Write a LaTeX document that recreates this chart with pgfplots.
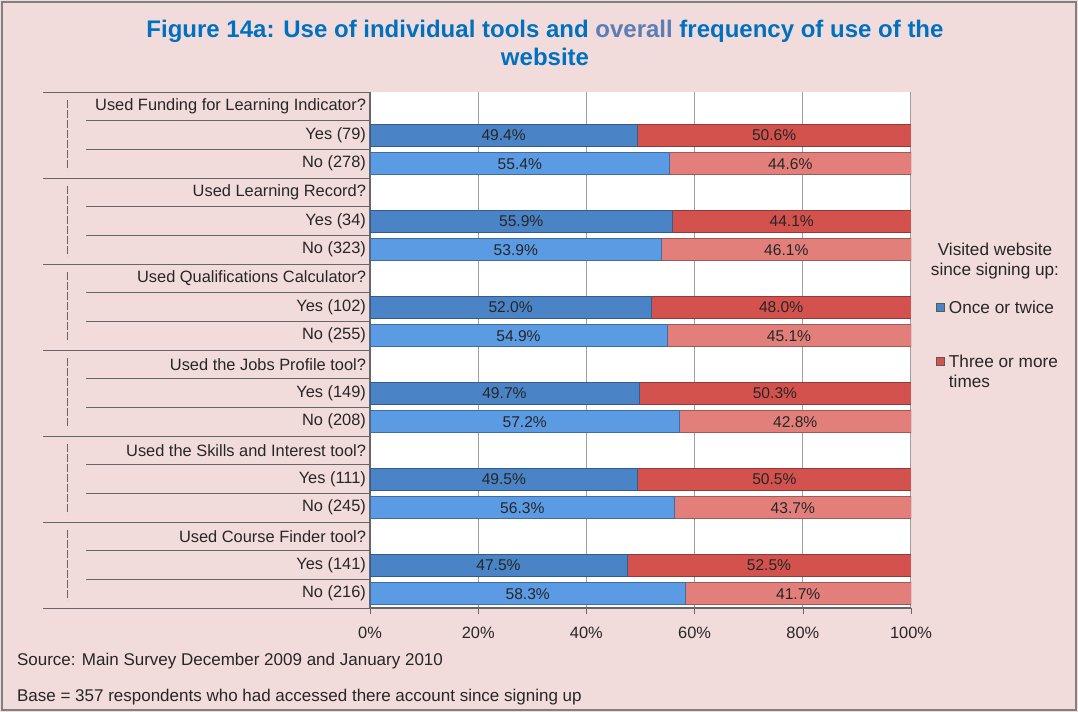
\documentclass[border=0pt]{standalone}
\usepackage{pgfplots}
\pgfplotsset{compat=1.18}
\usepackage{pgfplotstable}
\usepackage{fontspec}
\setmainfont{Liberation Sans}
\setsansfont{Liberation Sans}

\definecolor{bgpink}{HTML}{F2DCDB}
\definecolor{titleblue}{HTML}{0070C0}
\definecolor{overallblue}{HTML}{5A7DB8}
\definecolor{yesblue}{HTML}{4A84C6}
\definecolor{noblue}{HTML}{5B9BE3}
\definecolor{yesred}{HTML}{D4524E}
\definecolor{nored}{HTML}{E37F7B}
\definecolor{linegray}{HTML}{666666}

% rows: 0,3,6,... are the question headers, then Yes, then No
\pgfplotstableread{
row once three
1  49.4 50.6
4  55.9 44.1
7  52.0 48.0
10 49.7 50.3
13 49.5 50.5
16 47.5 52.5
}\yesdata
\pgfplotstableread{
row once three
2  55.4 44.6
5  53.9 46.1
8  54.9 45.1
11 57.2 42.8
14 56.3 43.7
17 58.3 41.7
}\nodata

\pgfplotsset{
  base/.style={
    at={(plotSW)}, anchor=south west,
    scale only axis, width=270.5pt, height=258pt,
    xmin=0, xmax=100, ymin=-0.5, ymax=17.5, y dir=reverse,
  },
  lbl/.style={draw=none, mark=none,
    /pgf/number format/assume math mode=true,
    nodes near coords={\pgfmathprintnumber[fixed,fixed zerofill,precision=1]{\pgfplotspointmeta}\%},
    every node near coord/.append style={anchor=center, font=\fontsize{7.8}{9}\selectfont, text=black!85}},
}

\begin{document}
\begin{tikzpicture}[x=0.5pt,y=-0.5pt]
\fill[bgpink] (0,0) rectangle (1078,712);
\draw[gray, line width=0.8pt] (2,2) rectangle (1076,710);
\coordinate (plotSW) at (370,608);

% left-hand table lines
\foreach \k in {1,2,4,5,7,8,10,11,13,14,16,17}
  \draw[linegray, line width=0.5pt] (86,{92+\k*516/18}) -- (370,{92+\k*516/18});
\foreach \k in {0,3,6,9,12,15,18}
  \draw[linegray, line width=0.5pt] (43,{92+\k*516/18}) -- (370,{92+\k*516/18});
\foreach \g in {0,...,5}
  \draw[linegray, line width=0.5pt, dash pattern=on 4pt off 1pt] (67,{92+\g*86+8}) -- (67,{92+\g*86+78});

\begin{axis}[base,
  xbar stacked, bar width=0.76,
  axis background/.style={fill=white},
  axis x line*=bottom, axis y line*=left,
  axis line style={linegray, line width=0.6pt, -},
  xtick={0,20,...,100},
  xticklabel={\pgfmathprintnumber{\tick}\%},
  /pgf/number format/assume math mode=true,
  xmajorgrids, grid style={gray!75, line width=0.5pt},
  major tick length=3pt, tick align=outside,
  xtick style={linegray},
  ytick={0,...,17}, ytick style={draw=none},
  yticklabels={Used Funding for Learning Indicator?, Yes (79), No (278),
    Used Learning Record?, Yes (34), No (323),
    Used Qualifications Calculator?, Yes (102), No (255),
    Used the Jobs Profile tool?, Yes (149), No (208),
    Used the Skills and Interest tool?, Yes (111), No (245),
    Used Course Finder tool?, Yes (141), No (216)},
  yticklabel style={font=\fontsize{8.2}{9.5}\selectfont, text=black!85, xshift=4.5pt},
  xticklabel style={font=\fontsize{8.2}{9.5}\selectfont, text=black!85, yshift=-3pt},
  legend style={at={(1.035,0.612)}, anchor=north west, draw=none, fill=none,
    font=\fontsize{8.6}{10}\selectfont, row sep=14.5pt, text=black!85,
    cells={anchor=base west}},
  legend image code/.code={\draw[#1, draw=gray!70!black, line width=0.3pt] (0pt,0.9pt) rectangle (4pt,4.9pt);},
]
\addplot[fill=yesblue, draw=yesblue!70!black, line width=0.3pt]
  table[x=once, y=row]{\yesdata};
\addlegendentry{Once or twice}
\addplot[fill=yesred, draw=yesred!70!black, line width=0.3pt]
  table[x=three, y=row]{\yesdata};
\addlegendentry{\begin{tabular}[t]{@{}l@{}}Three or more\\times\end{tabular}}
\end{axis}

\begin{axis}[base, hide axis, xbar stacked, bar width=0.76]
\addplot[fill=noblue, draw=noblue!70!black, line width=0.3pt]
  table[x=once, y=row]{\nodata};
\addplot[fill=nored, draw=nored!70!black, line width=0.3pt]
  table[x=three, y=row]{\nodata};
\end{axis}

\begin{axis}[base, hide axis]
\addplot[lbl, point meta=\thisrow{once}] table[x expr=\thisrow{once}/2, y=row]{\yesdata};
\addplot[lbl, point meta=\thisrow{three}] table[x expr=100-\thisrow{three}/2, y=row]{\yesdata};
\addplot[lbl, point meta=\thisrow{once}] table[x expr=\thisrow{once}/2, y=row]{\nodata};
\addplot[lbl, point meta=\thisrow{three}] table[x expr=100-\thisrow{three}/2, y=row]{\nodata};
\end{axis}

\node[align=center, font=\bfseries\fontsize{12}{14}\selectfont, text=titleblue] at (545,43)
  {Figure 14a: Use of individual tools and \textcolor{overallblue}{overall} frequency of use of the\\website};
\node[align=center, font=\fontsize{8.6}{9.6}\selectfont, text=black!85] at (995,261)
  {Visited website\\since signing up:};
\node[anchor=west, font=\fontsize{8.5}{9.5}\selectfont, text=black!85] at (10,661)
  {Source: Main Survey December 2009 and January 2010};
\node[anchor=west, font=\fontsize{8.5}{9.5}\selectfont, text=black!85] at (10,697)
  {Base = 357 respondents who had accessed there account since signing up};
\end{tikzpicture}
\end{document}
